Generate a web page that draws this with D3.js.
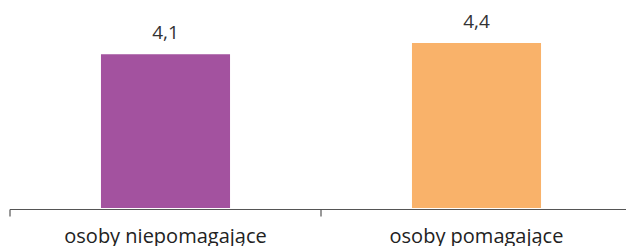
<!DOCTYPE html>
<html>
<head>
<meta charset="utf-8">
<script src="https://cdn.jsdelivr.net/npm/d3@7"></script>
<style>
  body { margin: 0; background: #fff; }
  svg { display: block; font-family: "Open Sans", "Noto Sans", sans-serif; }
</style>
</head>
<body>
<svg id="chart" width="626" height="246"></svg>
<script>
// données du graphique
let categories = ["osoby niepomagające", "osoby pomagające"];
let values = [4.1, 4.4];
let valueLabels = ["4,1", "4,4"];
let colors = ["#a3529f", "#f9b26a"];

let svg = d3.select("#chart");

// échelles
let x = d3.scaleBand()
  .domain(categories)
  .range([10, 632])
  .paddingInner(0.585)
  .paddingOuter(0.2925);

let y = d3.scaleLinear()
  .domain([0, 4.4])
  .range([208, 43]);

// barres
svg.selectAll("rect.bar")
  .data(values)
  .join("rect")
  .attr("class", "bar")
  .attr("x", (d, i) => x(categories[i]))
  .attr("y", d => y(d))
  .attr("width", x.bandwidth())
  .attr("height", d => y(0) - y(d))
  .attr("fill", (d, i) => colors[i]);

// étiquettes de valeurs
svg.selectAll("text.val")
  .data(values)
  .join("text")
  .attr("class", "val")
  .attr("x", (d, i) => x(categories[i]) + x.bandwidth() / 2)
  .attr("y", d => y(d) - 15)
  .attr("text-anchor", "middle")
  .attr("font-size", 19)
  .attr("fill", "#333")
  .text((d, i) => valueLabels[i]);

// axe X
let axisG = svg.append("g")
  .attr("transform", "translate(0,209.5)");

let step = x.step();
let boundaries = categories.map(c => x(c) - x.paddingOuter() * step);

axisG.append("line")
  .attr("x1", boundaries[0])
  .attr("x2", 626)
  .attr("stroke", "#555")
  .attr("stroke-width", 1.2);

axisG.selectAll("line.tick")
  .data(boundaries)
  .join("line")
  .attr("class", "tick")
  .attr("x1", d => d)
  .attr("x2", d => d)
  .attr("y1", 0)
  .attr("y2", 7)
  .attr("stroke", "#555")
  .attr("stroke-width", 1.2);

axisG.selectAll("text.cat")
  .data(categories)
  .join("text")
  .attr("class", "cat")
  .attr("x", d => x(d) + x.bandwidth() / 2)
  .attr("y", 33)
  .attr("text-anchor", "middle")
  .attr("font-size", 20)
  .attr("fill", "#222")
  .text(d => d);
</script>
</body>
</html>
